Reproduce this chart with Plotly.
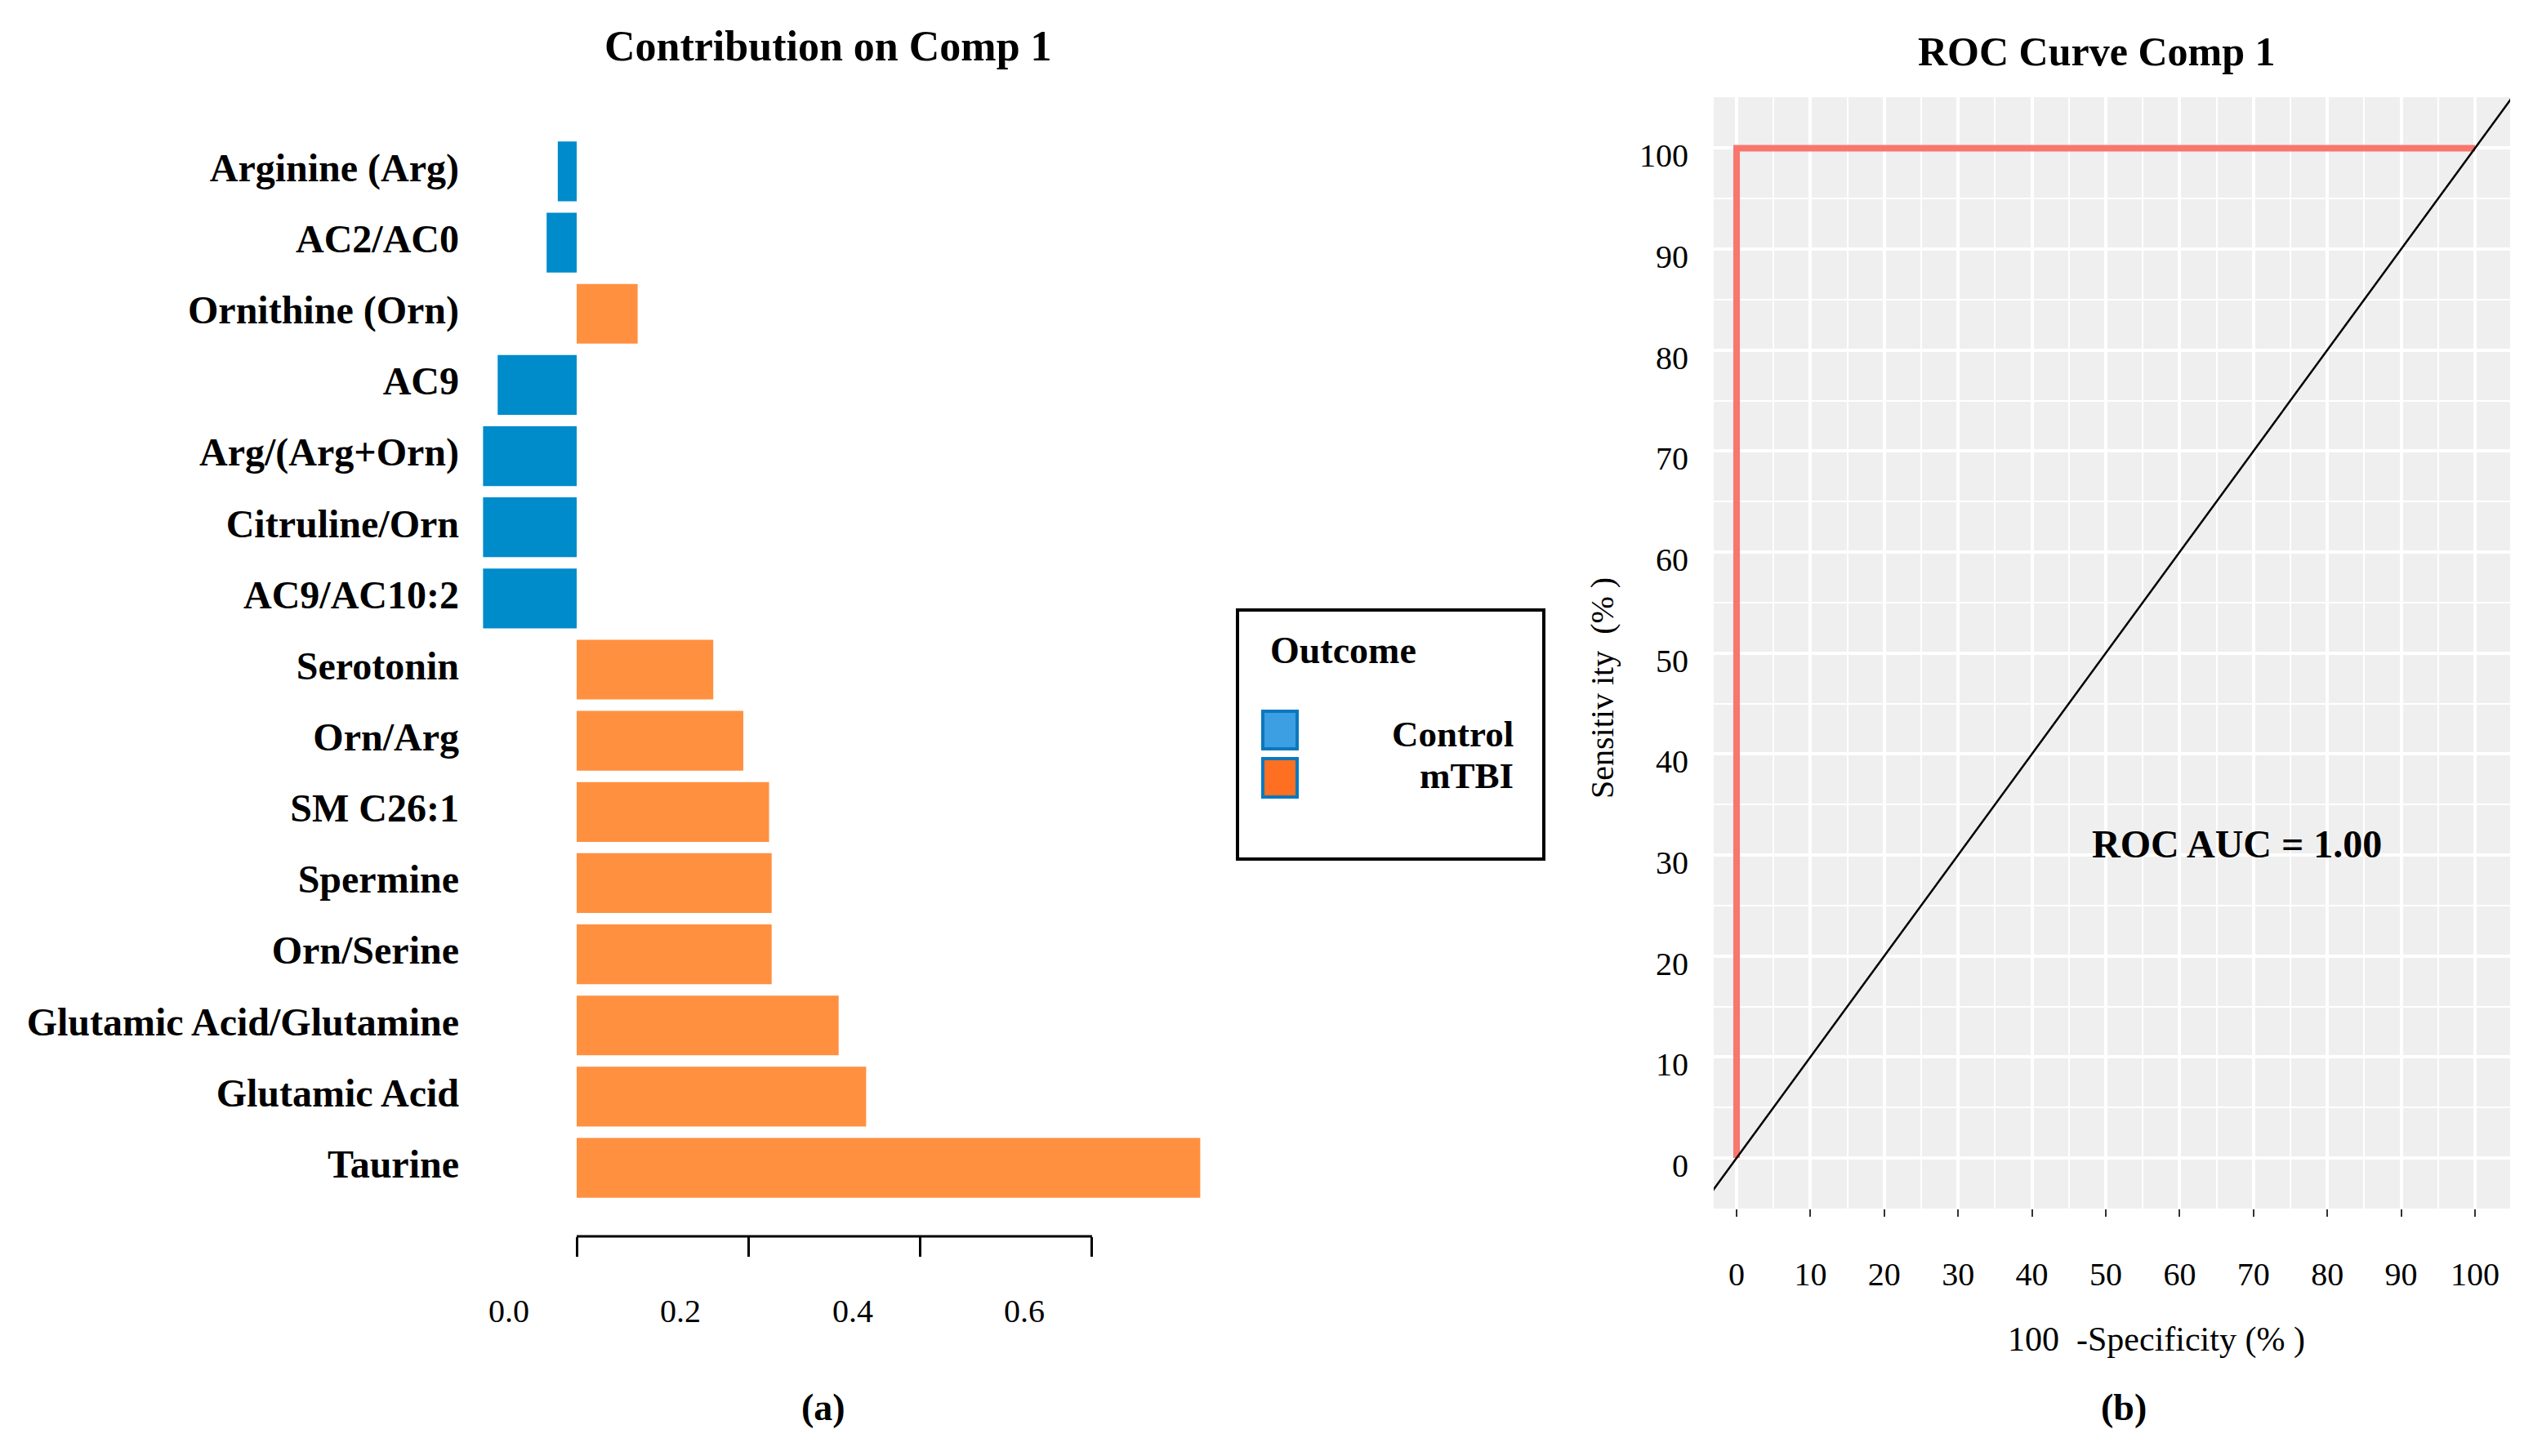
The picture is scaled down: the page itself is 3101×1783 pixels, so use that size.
import plotly.graph_objects as go

# ---- data ----
metabolites = [
    "Arginine (Arg)", "AC2/AC0", "Ornithine (Orn)", "AC9", "Arg/(Arg+Orn)",
    "Citruline/Orn", "AC9/AC10:2", "Serotonin", "Orn/Arg", "SM C26:1",
    "Spermine", "Orn/Serine", "Glutamic Acid/Glutamine", "Glutamic Acid", "Taurine",
]
contribution = [
    -0.022, -0.035, 0.071, -0.092, -0.109,
    -0.109, -0.109, 0.159, 0.194, 0.224,
    0.227, 0.227, 0.305, 0.337, 0.726,
]
outcome = [
    "Control", "Control", "mTBI", "Control", "Control",
    "Control", "Control", "mTBI", "mTBI", "mTBI",
    "mTBI", "mTBI", "mTBI", "mTBI", "mTBI",
]
contrib_ticks = [0.0, 0.2, 0.4, 0.6]
contrib_ticklabels = ["0.0", "0.2", "0.4", "0.6"]

roc_fpr = [0, 0, 100]          # 100 - specificity (%)
roc_tpr = [0, 100, 100]        # sensitivity (%)
chance_x = [-10, 110]
chance_y = [-10, 110]
roc_auc = 1.00
roc_ticks = list(range(0, 101, 10))

colors = {"Control": "#008BCB", "mTBI": "#FF9040"}
FONT = "Liberation Serif"
W, H = 3101, 1783


def px_x(p):
    return p / W


def px_y(p):
    return 1 - p / H


def label(x, y, text, size, anchor="center", angle=0):
    # text placed by pixel position on the page
    fig.add_annotation(x=px_x(x), y=px_y(y), xref="paper", yref="paper",
                       text=text, showarrow=False, xanchor=anchor, yanchor="middle",
                       textangle=angle,
                       font=dict(family=FONT, size=size, color="black"))


fig = go.Figure()

# ---- (a) contribution bars ----
for grp in ["Control", "mTBI"]:
    ys = [m for m, o in zip(metabolites, outcome) if o == grp]
    xs = [c for c, o in zip(contribution, outcome) if o == grp]
    fig.add_trace(go.Bar(
        x=xs, y=ys, orientation="h", name=grp,
        marker=dict(color=colors[grp], line=dict(width=0)),
        xaxis="x", yaxis="y", showlegend=False,
    ))

# ---- (b) ROC curve ----
fig.add_trace(go.Scatter(
    x=roc_fpr, y=roc_tpr, mode="lines", line=dict(color="#F8766D", width=8),
    xaxis="x2", yaxis="y2", showlegend=False,
))
fig.add_trace(go.Scatter(
    x=chance_x, y=chance_y, mode="lines", line=dict(color="black", width=2.5),
    xaxis="x2", yaxis="y2", showlegend=False,
))

# bar panel geometry (zero at 706px, 1051.5 px per unit)
zero_px, k = 706, 1051.5
bar_dom = [575, 1495]
# roc panel geometry
roc_xdom = [2098, 3073]
roc_ydom = [119, 1480]

fig.update_layout(
    width=W, height=H,
    margin=dict(l=0, r=0, t=0, b=0),
    paper_bgcolor="white",
    plot_bgcolor="white",
    barmode="relative",
    bargap=0.16,
    font=dict(family=FONT, color="black"),
    xaxis=dict(
        domain=[px_x(bar_dom[0]), px_x(bar_dom[1])],
        range=[(bar_dom[0] - zero_px) / k, (bar_dom[1] - zero_px) / k],
        anchor="free", position=px_y(1514),
        tickvals=contrib_ticks, showticklabels=False,
        ticks="outside", ticklen=24, tickwidth=3, tickcolor="black",
        showgrid=False, zeroline=False, showline=False,
    ),
    yaxis=dict(
        domain=[px_y(1473.6), px_y(166.4)],
        type="category", categoryorder="array", categoryarray=metabolites,
        range=[len(metabolites) - 0.5, -0.5],
        tickfont=dict(family=FONT, size=48, color="black", weight="bold"),
        ticks="", ticklabelstandoff=12, ticklabelshift=5,
        showgrid=False, zeroline=False, showline=False,
    ),
    xaxis2=dict(
        domain=[px_x(roc_xdom[0]), px_x(roc_xdom[1])],
        range=[(roc_xdom[0] - 2126) / 9.04, (roc_xdom[1] - 2126) / 9.04],
        anchor="y2",
        tickvals=roc_ticks, ticks="outside", ticklen=9, tickwidth=2, tickcolor="#333333",
        tickfont=dict(family=FONT, size=40, color="black"),
        ticklabelstandoff=36,
        showgrid=True, gridcolor="white", gridwidth=4,
        minor=dict(dtick=5, tick0=0, showgrid=True, gridcolor="white", gridwidth=2),
        zeroline=False, showline=False,
    ),
    yaxis2=dict(
        domain=[px_y(roc_ydom[1]), px_y(roc_ydom[0])],
        range=[(1418 - roc_ydom[1]) / 12.366, (1418 - roc_ydom[0]) / 12.366],
        anchor="x2",
        tickvals=roc_ticks, ticks="",
        tickfont=dict(family=FONT, size=40, color="black"),
        ticklabelstandoff=30, ticklabelshift=9,
        showgrid=True, gridcolor="white", gridwidth=4,
        minor=dict(dtick=5, tick0=0, showgrid=True, gridcolor="white", gridwidth=2),
        zeroline=False, showline=False,
    ),
)

# ROC panel background
fig.add_shape(type="rect", xref="x2 domain", yref="y2 domain", x0=0, x1=1, y0=0, y1=1,
              fillcolor="#EFEFEF", line=dict(width=0), layer="below")

# bar x-axis line spans the tick range only
fig.add_shape(type="line", xref="x", yref="paper",
              x0=contrib_ticks[0], x1=contrib_ticks[-1], y0=px_y(1514), y1=px_y(1514),
              line=dict(color="black", width=3))

# tick labels of the bar axis (offset to the left as in the reference)
for v, lab in zip(contrib_ticks, contrib_ticklabels):
    fig.add_annotation(x=v, y=px_y(1605), xref="x", yref="paper", text=lab,
                       showarrow=False, xshift=-83, xanchor="center", yanchor="middle",
                       font=dict(family=FONT, size=40, color="black"))

# legend box drawn by hand
fig.add_shape(type="rect", xref="paper", yref="paper",
              x0=px_x(1515), x1=px_x(1890), y0=px_y(1052), y1=px_y(747),
              line=dict(color="black", width=4), fillcolor="white")
fig.add_shape(type="rect", xref="paper", yref="paper",
              x0=px_x(1546), x1=px_x(1588), y0=px_y(917), y1=px_y(871),
              line=dict(color="#0A78BD", width=4), fillcolor="#3C9FE4")
fig.add_shape(type="rect", xref="paper", yref="paper",
              x0=px_x(1546), x1=px_x(1588), y0=px_y(976), y1=px_y(929),
              line=dict(color="#0A78BD", width=4), fillcolor="#FF6F22")
label(1553, 796, "<b>Outcome</b>", 46, anchor="left")
label(1855, 899, "<b>Control</b>", 45, anchor="right")
label(1855, 950, "<b>mTBI</b>", 45, anchor="right")

# titles and panel letters
label(1014, 56, "<b>Contribution on Comp 1</b>", 52)
label(2566, 63, "<b>ROC Curve Comp 1</b>", 50)
label(1008, 1723, "<b>(a)</b>", 46)
label(2600, 1723, "<b>(b)</b>", 46)

# ROC axis titles and AUC text
label(2640, 1640, "100  -Specificity (% )", 42)
label(1961, 842, "Sensitiv ity  (% )", 40, angle=-90)
fig.add_annotation(x=67.7, y=31.1, xref="x2", yref="y2",
                   text="<b>ROC AUC = %.2f</b>" % roc_auc, showarrow=False,
                   xanchor="center", yanchor="middle",
                   font=dict(family=FONT, size=48, color="black"))

fig.write_html("out.html", config={"displayModeBar": False},
               post_script="document.body.style.margin='0';")
